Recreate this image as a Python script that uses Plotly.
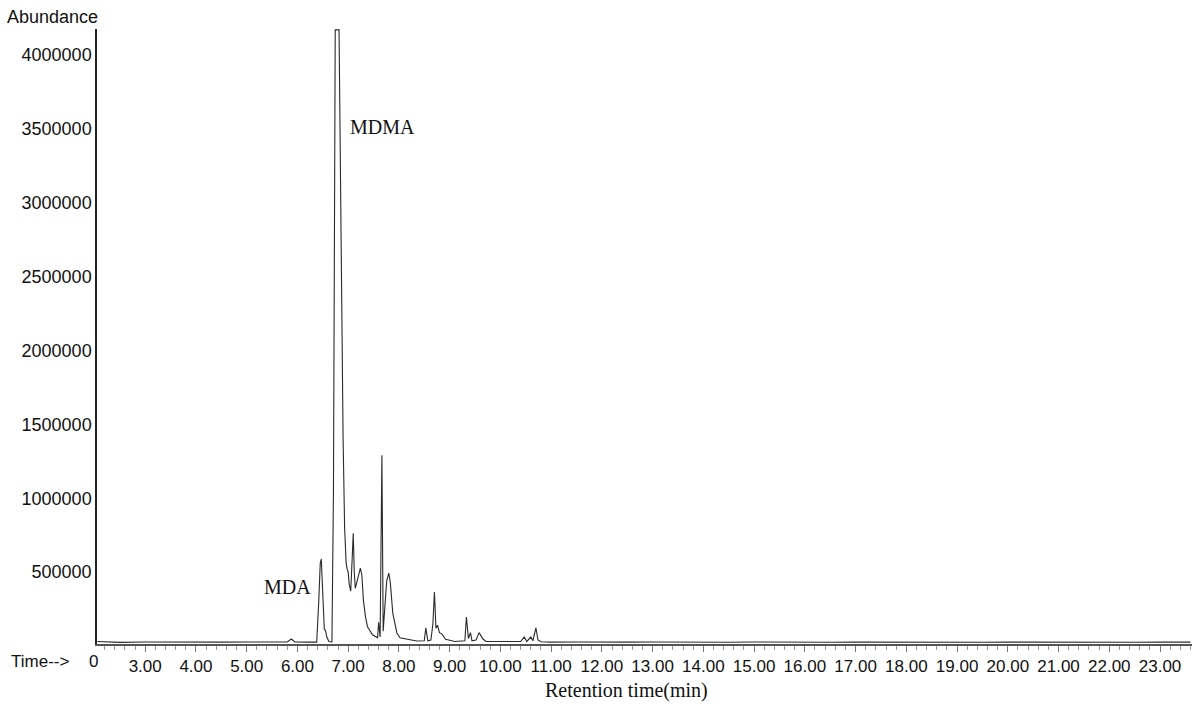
import plotly.graph_objects as go

# Retention time (min) and abundance
time_min = [
    2.06, 2.5, 3.0, 3.5, 4.0, 4.5, 5.0, 5.5, 5.80, 5.88, 5.95, 6.2, 6.38,
    6.42, 6.45, 6.47, 6.50, 6.53, 6.55, 6.58, 6.62, 6.68,
    6.71, 6.73, 6.745, 6.82, 6.84, 6.87, 6.90, 6.93, 6.96, 6.98, 7.00, 7.02,
    7.05, 7.08, 7.10, 7.12, 7.14, 7.17, 7.21, 7.24, 7.27, 7.30, 7.34, 7.38,
    7.48, 7.58, 7.60, 7.63, 7.665, 7.69, 7.72, 7.76, 7.80, 7.83, 7.88, 7.96,
    8.02, 8.22, 8.35, 8.50, 8.53, 8.57, 8.63, 8.67, 8.70, 8.73, 8.76, 8.80,
    8.85, 8.92, 9.10, 9.30, 9.33, 9.37, 9.41, 9.44, 9.52, 9.58, 9.62, 9.66,
    9.72, 10.0, 10.40, 10.47, 10.52, 10.60, 10.64, 10.70, 10.74, 10.80, 11.0,
    11.5, 12.0, 12.5, 13.0, 13.5, 14.0, 14.5, 15.0, 15.5, 16.0, 16.5, 17.0,
    17.5, 18.0, 18.5, 19.0, 19.5, 20.0, 20.5, 21.0, 21.5, 22.0, 22.5, 23.0,
    23.6,
]
abundance = [
    30000, 24000, 27000, 25000, 28000, 26000, 27000, 25000, 27000, 47000, 27000, 26000, 26000,
    300000, 560000, 588000, 350000, 110000, 108000, 60000, 30000, 28000,
    1050000, 3600000, 4170000, 4170000, 3400000, 2400000, 1400000, 800000, 560000, 520000, 500000, 420000,
    370000, 600000, 763000, 500000, 390000, 430000, 500000, 527000, 480000, 310000, 200000, 130000,
    75000, 55000, 160000, 60000, 1290000, 100000, 250000, 440000, 493000, 430000, 220000, 88000,
    55000, 40000, 33000, 35000, 122000, 35000, 40000, 150000, 365000, 120000, 140000, 90000,
    80000, 45000, 30000, 35000, 196000, 50000, 90000, 35000, 40000, 90000, 70000, 45000,
    30000, 28000, 30000, 60000, 30000, 60000, 35000, 122000, 40000, 28000, 26000,
    27000, 25000, 26000, 27000, 25000, 26000, 25000, 27000, 25000, 26000, 25000, 26000,
    25000, 26000, 25000, 26000, 25000, 26000, 25000, 26000, 25000, 26000, 25000, 26000,
    26000,
]

x_tick_vals = [3, 4, 5, 6, 7, 8, 9, 10, 11, 12, 13, 14, 15, 16, 17, 18, 19, 20, 21, 22, 23]
x_tick_text = ["3.00", "4.00", "5.00", "6.00", "7.00", "8.00", "9.00", "10.00", "11.00",
               "12.00", "13.00", "14.00", "15.00", "16.00", "17.00", "18.00", "19.00",
               "20.00", "21.00", "22.00", "23.00"]
y_tick_vals = [500000, 1000000, 1500000, 2000000, 2500000, 3000000, 3500000, 4000000]
y_tick_text = ["500000", "1000000", "1500000", "2000000", "2500000", "3000000", "3500000", "4000000"]

SANS = "Liberation Sans, Arial, sans-serif"
SERIF = "Liberation Serif, Times New Roman, serif"

fig = go.Figure()
fig.add_trace(go.Scatter(x=time_min, y=abundance, mode="lines",
                         line=dict(color="#2a2a2a", width=1.1), hoverinfo="skip",
                         showlegend=False))

fig.update_layout(
    width=1194, height=708,
    margin=dict(l=97, r=2, t=29, b=64, autoexpand=False),
    paper_bgcolor="white", plot_bgcolor="white",
    showlegend=False,
)
fig.update_xaxes(
    range=[2.05, 23.63], showgrid=False, zeroline=False, automargin=False,
    showline=True, linecolor="#555555", linewidth=2,
    tickmode="array", tickvals=x_tick_vals, ticktext=x_tick_text,
    ticks="outside", ticklen=6, tickcolor="#777777", tickwidth=1,
    minor=dict(dtick=0.2, tick0=2.0, ticks="outside", ticklen=4, tickcolor="#999999", tickwidth=1),
    tickfont=dict(family=SANS, size=17, color="#111111"),
)
fig.update_yaxes(
    range=[13000, 4176000], showgrid=False, zeroline=False, automargin=False,
    showline=True, linecolor="#222222", linewidth=1.5,
    tickmode="array", tickvals=y_tick_vals, ticktext=y_tick_text,
    ticks="", tickfont=dict(family=SANS, size=18, color="#111111"),
)

fig.add_annotation(text="Abundance", xref="paper", yref="paper", x=-0.084, y=1.0195,
                   xanchor="left", yanchor="middle", showarrow=False,
                   font=dict(family=SANS, size=18, color="#111111"))
fig.add_annotation(text="Time-->", xref="paper", yref="paper", x=-0.080, y=-0.028,
                   xanchor="left", yanchor="middle", showarrow=False,
                   font=dict(family=SANS, size=17, color="#111111"))
fig.add_annotation(text="0", xref="paper", yref="paper", x=-0.003, y=-0.028,
                   xanchor="center", yanchor="middle", showarrow=False,
                   font=dict(family=SANS, size=17, color="#111111"))
fig.add_annotation(text="MDMA", x=7.67, y=3512000, xanchor="center", yanchor="middle",
                   showarrow=False, font=dict(family=SERIF, size=20, color="#111111"))
fig.add_annotation(text="MDA", x=5.80, y=399000, xanchor="center", yanchor="middle",
                   showarrow=False, font=dict(family=SERIF, size=20, color="#111111"))
fig.add_annotation(text="Retention time(min)", xref="paper", yref="paper", x=0.484, y=-0.0764,
                   xanchor="center", yanchor="middle", showarrow=False,
                   font=dict(family=SERIF, size=20, color="#111111"))

fig.write_html("out.html", config={"displayModeBar": False},
               post_script="document.body.style.margin='0';")
